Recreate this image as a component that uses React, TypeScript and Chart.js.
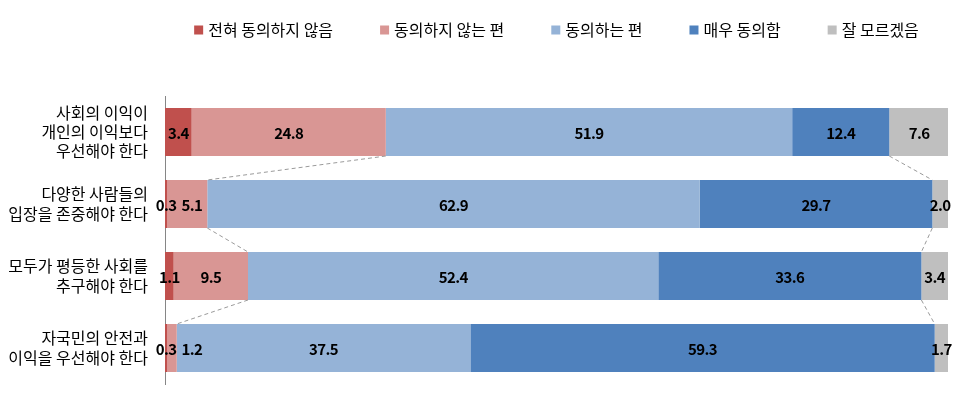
import React, { useEffect, useRef } from "react";
import { Chart, registerables } from "chart.js";

Chart.register(...registerables);

const categories: string[][] = [
  ["사회의 이익이", "개인의 이익보다", "우선해야 한다"],
  ["다양한 사람들의", "입장을 존중해야 한다"],
  ["모두가 평등한 사회를", "추구해야 한다"],
  ["자국민의 안전과", "이익을 우선해야 한다"],
];

const seriesNames = ["전혀 동의하지 않음", "동의하지 않는 편", "동의하는 편", "매우 동의함", "잘 모르겠음"];
const stronglyDisagree = [3.4, 0.3, 1.1, 0.3];
const disagree = [24.8, 5.1, 9.5, 1.2];
const agree = [51.9, 62.9, 52.4, 37.5];
const stronglyAgree = [12.4, 29.7, 33.6, 59.3];
const dontKnow = [7.6, 2.0, 3.4, 1.7];
const seriesColors = ["#C0504D", "#D99694", "#95B3D7", "#4F81BD", "#BFBFBF"];
const connectorSeries = [1, 3];

const FONT = "'Noto Sans CJK KR', 'Noto Sans', sans-serif";

const legendPlugin = {
  id: "customLegend",
  afterDraw(chart: any) {
    const ctx = chart.ctx;
    const area = chart.chartArea;
    ctx.save();
    ctx.font = `16px ${FONT}`;
    ctx.textBaseline = "middle";
    ctx.textAlign = "left";
    const box = 9;
    const boxGap = 5;
    const itemGap = 47;
    const items = chart.data.datasets.map((ds: any) => ({
      label: ds.label,
      color: ds.backgroundColor,
      w: box + boxGap + ctx.measureText(ds.label).width,
    }));
    const total = items.reduce((s: number, it: any) => s + it.w, 0) + itemGap * (items.length - 1);
    let x = (area.left + area.right) / 2 - total / 2;
    const y = 30;
    items.forEach((it: any) => {
      ctx.fillStyle = it.color;
      ctx.fillRect(x, y - box / 2, box, box);
      ctx.fillStyle = "#000";
      ctx.fillText(it.label, x + box + boxGap, y);
      x += it.w + itemGap;
    });
    ctx.restore();
  },
};

const labelPlugin = {
  id: "segLabels",
  afterDatasetsDraw(chart: any) {
    const ctx = chart.ctx;
    ctx.save();
    ctx.strokeStyle = "#9A9A9A";
    ctx.lineWidth = 1;
    ctx.setLineDash([4, 3]);
    connectorSeries.forEach((di) => {
      const meta = chart.getDatasetMeta(di);
      for (let i = 0; i < meta.data.length - 1; i++) {
        const a = meta.data[i];
        const b = meta.data[i + 1];
        ctx.beginPath();
        ctx.moveTo(a.x, a.y + a.height / 2);
        ctx.lineTo(b.x, b.y - b.height / 2);
        ctx.stroke();
      }
    });
    ctx.setLineDash([]);
    ctx.fillStyle = "#000000";
    ctx.font = `bold 15px ${FONT}`;
    try {
      (ctx as any).letterSpacing = "-0.6px";
    } catch (e) {}
    ctx.textAlign = "left";
    ctx.textBaseline = "middle";
    const n = chart.data.labels.length;
    for (let i = 0; i < n; i++) {
      let prevRight = -Infinity;
      chart.data.datasets.forEach((ds: any, di: number) => {
        const el = chart.getDatasetMeta(di).data[i];
        const txt = Number(ds.data[i]).toFixed(1);
        const w = ctx.measureText(txt).width;
        let left = (el.x + el.base) / 2 - w / 2;
        if (left < prevRight + 5) left = prevRight + 5;
        ctx.fillText(txt, left, el.y + 1);
        prevRight = left + w;
      });
    }
    ctx.restore();
  },
};

export default function App() {
  const ref = useRef<HTMLCanvasElement | null>(null);
  useEffect(() => {
    if (!ref.current) return;
    const values = [stronglyDisagree, disagree, agree, stronglyAgree, dontKnow];
    const chart = new Chart(ref.current, {
      type: "bar",
      data: {
        labels: categories,
        datasets: values.map((d, i) => ({
          label: seriesNames[i],
          data: d,
          backgroundColor: seriesColors[i],
          borderWidth: 0,
          categoryPercentage: 0.667,
          barPercentage: 1,
        })),
      },
      options: {
        indexAxis: "y",
        animation: false,
        responsive: false,
        maintainAspectRatio: false,
        layout: { padding: { left: 0, right: 16, top: 96, bottom: 9 } },
        plugins: {
          tooltip: { enabled: false },
          legend: { display: false },
        },
        scales: {
          x: {
            stacked: true,
            min: 0,
            max: 100,
            display: false,
          },
          y: {
            stacked: true,
            grid: { display: false, drawTicks: false },
            border: { display: true, color: "#868686", width: 1 },
            ticks: {
              color: "#000",
              padding: 17,
              font: { family: FONT, size: 16, lineHeight: 1.2 },
            },
            afterFit(scale: any) {
              scale.width = 165;
              scale.paddingTop = 0;
              scale.paddingBottom = 0;
            },
          },
        },
      },
      plugins: [labelPlugin, legendPlugin],
    } as any);
    return () => chart.destroy();
  }, []);
  return (
    <div style={{ position: "fixed", left: 0, top: 0, width: 964, height: 393, background: "#fff" }}>
      <canvas ref={ref} width={964} height={393} style={{ width: 964, height: 393 }} />
    </div>
  );
}
